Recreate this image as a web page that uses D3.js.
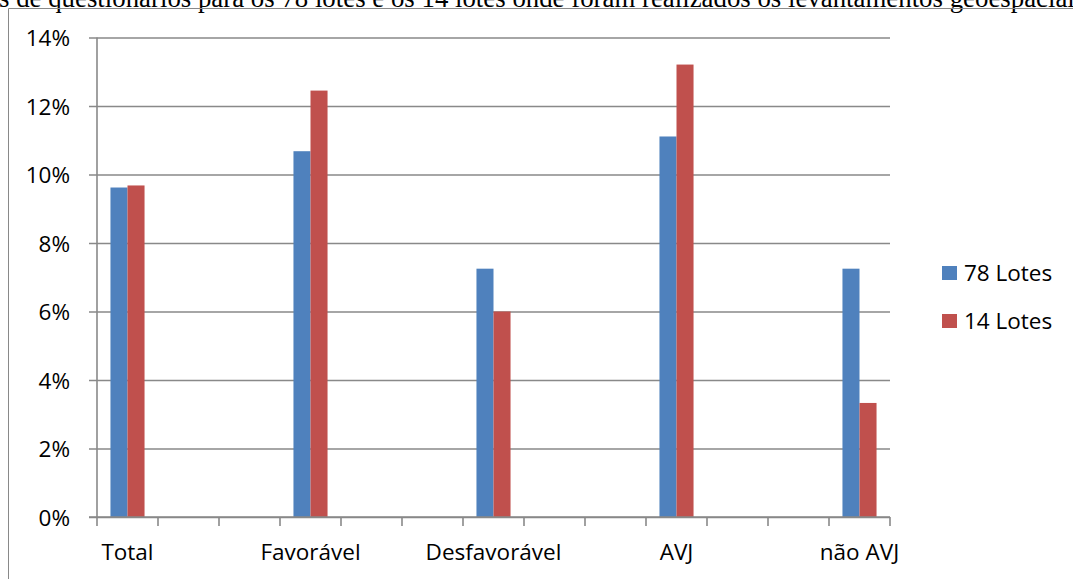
<!DOCTYPE html>
<html>
<head>
<meta charset="utf-8">
<script src="https://cdn.jsdelivr.net/npm/d3@7"></script>
<style>
  html, body { margin: 0; padding: 0; background: #fff; }
  svg { display: block; }
  .lbl { font-family: "Open Sans", Lato, sans-serif; fill: #000; }
</style>
</head>
<body>
<svg id="chart" width="1073" height="579"></svg>
<script>
// Category slots along the x axis (blank slots keep the spacing between groups)
const categories = ["Total", "", "", "Favorável", "", "", "Desfavorável", "", "", "AVJ", "", "", "não AVJ"];
// Share (%) per category for each series; null where a slot has no bar
const lotes78 = [9.62, null, null, 10.68, null, null, 7.25, null, null, 11.11, null, null, 7.25];
const lotes14 = [9.68, null, null, 12.45, null, null, 6.00, null, null, 13.21, null, null, 3.33];
const seriesNames = ["78 Lotes", "14 Lotes"];
const seriesColors = ["#4F81BD", "#C0504D"];
const yTicks = [0, 2, 4, 6, 8, 10, 12, 14];
const titleText = "s de questionários para os 78 lotes e os 14 lotes onde foram realizados os levantamentos geoespaciais";

const svg = d3.select("#chart");
const W = 1073, H = 579;
const plot = { left: 97, right: 890, top: 37.5, bottom: 517 };
const gridColor = "#898989";
const fontSize = 22.5;

// Caption line above the frame (runs past the page edges);
// the size is chosen so that "…geoespaciai" reaches the right edge
const caption = svg.append("text")
  .attr("x", -1).attr("y", 7)
  .attr("font-family", "'Liberation Serif', 'Times New Roman', serif")
  .attr("font-size", 23)
  .text(titleText.slice(0, -1));
const natural = caption.node().getComputedTextLength();
caption.attr("font-size", 23 * 1076 / natural).text(titleText);

// Chart frame
svg.append("path")
  .attr("d", `M8.5,${H} V8.5 H${W}`)
  .attr("fill", "none").attr("stroke", gridColor).attr("stroke-width", 1);

const x = d3.scaleBand()
  .domain(d3.range(categories.length))
  .range([plot.left, plot.right])
  .paddingInner(0).paddingOuter(0);

const xs = d3.scaleBand()
  .domain(seriesNames)
  .range([0, x.bandwidth()])
  .paddingInner(0).paddingOuter(0.79);

const y = d3.scaleLinear().domain([0, 14]).range([plot.bottom, plot.top]);

// Horizontal gridlines with left tick stubs
const yAxis = d3.axisLeft(y)
  .tickValues(yTicks)
  .tickSize(-(plot.right - plot.left))
  .tickSizeOuter(0)
  .tickFormat(d => d + "%");

const gy = svg.append("g").attr("transform", `translate(${plot.left},0)`).call(yAxis);
gy.select(".domain").remove();
gy.selectAll(".tick line").attr("stroke", gridColor).attr("stroke-width", 1.6)
  .attr("x1", -8);
gy.selectAll(".tick text").attr("class", "lbl").attr("font-size", fontSize)
  .attr("x", -27).attr("dy", "0.36em");

// Vertical axis line
svg.append("line")
  .attr("x1", plot.left).attr("x2", plot.left)
  .attr("y1", plot.top).attr("y2", plot.bottom)
  .attr("stroke", gridColor).attr("stroke-width", 1.6);

// Bars
const series = [lotes78, lotes14];
series.forEach((vals, si) => {
  svg.append("g").selectAll("rect")
    .data(vals.map((v, i) => ({ i, v })).filter(d => d.v != null))
    .join("rect")
    .attr("x", d => x(d.i) + xs(seriesNames[si]))
    .attr("width", xs.bandwidth())
    .attr("y", d => y(d.v))
    .attr("height", d => y(0) - y(d.v))
    .attr("fill", seriesColors[si]);
});

// Category axis: ticks at slot boundaries, labels at slot centres
const boundaries = d3.range(categories.length + 1).map(i =>
  i < categories.length ? x(i) : x(categories.length - 1) + x.bandwidth());
svg.append("line")
  .attr("x1", plot.left - 8).attr("x2", plot.right)
  .attr("y1", plot.bottom).attr("y2", plot.bottom)
  .attr("stroke", gridColor).attr("stroke-width", 1.6);
svg.append("g").selectAll("line")
  .data(boundaries).join("line")
  .attr("x1", d => d).attr("x2", d => d)
  .attr("y1", plot.bottom).attr("y2", plot.bottom + 9)
  .attr("stroke", gridColor).attr("stroke-width", 1.6);
svg.append("g").selectAll("text")
  .data(categories.map((c, i) => ({ c, i })).filter(d => d.c))
  .join("text")
  .attr("class", "lbl")
  .attr("font-size", fontSize)
  .attr("text-anchor", "middle")
  .attr("x", d => x(d.i) + x.bandwidth() / 2)
  .attr("y", 560)
  .text(d => d.c);

// Legend
const legend = svg.append("g");
seriesNames.forEach((name, i) => {
  const ly = 273 + i * 48;
  legend.append("rect")
    .attr("x", 942).attr("y", ly - 7).attr("width", 15).attr("height", 14)
    .attr("fill", seriesColors[i]);
  legend.append("text")
    .attr("class", "lbl").attr("font-size", fontSize)
    .attr("x", 964).attr("y", ly).attr("dy", "0.36em")
    .text(name);
});
</script>
</body>
</html>
